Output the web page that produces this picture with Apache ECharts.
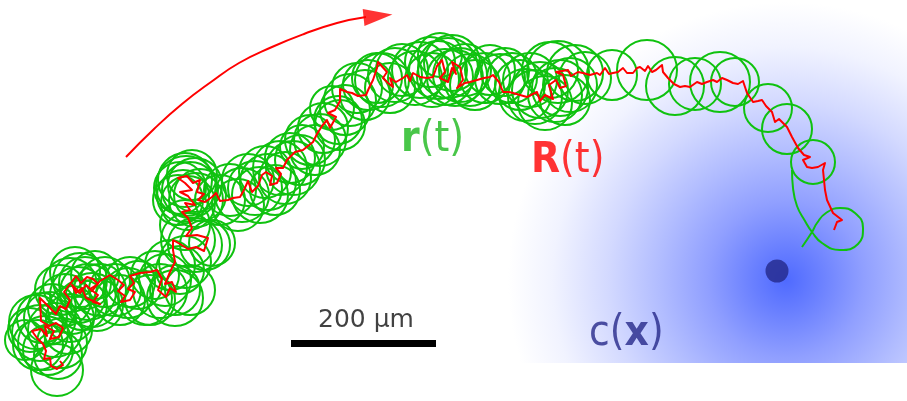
<!DOCTYPE html>
<html>
<head>
<meta charset="utf-8">
<script src="https://cdn.jsdelivr.net/npm/echarts@6/dist/echarts.min.js"></script>
<style>html,body{margin:0;padding:0;background:#fff}#c{width:907px;height:401px}</style>
</head>
<body>
<div id="c"></div>
<script>
// ---- canvas extent (image-like units, y grows downward) ----
const extentX = [0, 907];
const extentY = [0, 401];

// ---- concentration field c(x) ----
const fieldX = [500, 907];
const fieldY = [0, 363];
const sourcePoint = [777, 271];
const fieldCentre = [786, 280];
const fieldRadius = 278;

// ---- flagellar loops r(t): centre x, centre y, radius ----
const loopX = [57,36,40,45,55,50,62,30,48,42,58,25,68,52,38,70,
  70,78,85,92,65,75,100,82,95,60,88,105,72,97,80,
  115,128,130,145,160,165,175,120,138,150,175,155,190,170,180,
  185,195,205,188,212,185,
  185,190,183,195,188,180,192,200,178,196,186,
  230,242,248,255,268,265,280,293,290,220,238,260,275,285,300,315,
  302,310,323,332,338,357,365,377,382,320,345,340,350,368,390,395,
  402,415,438,445,452,460,470,430,485,500,505,520,535,545,550,560,575,565,
  420,432,448,455,465,475,490,512,525,530,540,555,570,585,440,558,
  612,647,675,695,720,735,768,787,813];
const loopY = [370,322,333,343,330,318,343,330,350,318,355,340,330,308,345,318,
  285,295,283,300,300,272,290,305,275,290,292,282,310,305,280,
  290,293,282,298,291,280,290,300,285,300,298,275,290,265,270,
  262,245,245,240,243,225,
  180,190,196,185,203,188,175,195,200,200,186,
  190,195,180,188,182,172,168,168,158,200,205,195,190,178,160,150,
  147,140,128,108,120,88,95,78,80,140,110,125,100,85,88,75,
  70,78,70,77,63,75,80,62,78,79,72,85,97,103,70,88,73,100,
  70,80,68,78,70,85,70,78,95,80,90,95,85,78,55,72,
  75,70,86,84,82,82,108,129,162];
const loopR = [26,27,28,27,27,26,25,22,25,25,24,20,24,24,25,24,
  27,28,26,27,26,25,26,25,24,25,28,25,24,26,27,
  26,25,25,27,27,26,25,25,24,25,28,24,25,25,24,
  26,27,25,27,23,25,
  27,28,26,27,27,26,25,26,25,27,30,
  26,27,26,27,28,26,27,27,25,25,26,28,25,26,25,25,
  22,25,25,22,24,25,25,25,27,26,25,25,26,25,25,27,
  26,27,29,28,28,27,26,25,25,25,24,25,27,27,28,28,28,25,
  28,27,30,28,26,25,25,25,26,27,28,27,27,26,22,31,
  25,30,29,26,30,24,24,25,22];

// ---- final free-swimming tail of r(t) ----
const tailX = [792,793,797,805,812,822,840,858,863,855,840,826,817,812,802];
const tailY = [170,188,206,221,232,243,250,244,228,213,208,213,223,232,247];

// ---- head path R(t) ----
const pathX = [60,63,57,51,50,44,46,43,37,32,41,47,45,54,50,59,63,56,49,41,40,50,56,60,66,70,64,70,76,81,87,93,98,90,98,93,100,86,82,76,72,80,86,92,100,110,118,
  124,118,125,121,130,135,128,134,130,140,150,157,
  162,158,166,170,176,172,165,170,175,173,173,
  180,188,196,204,208,197,186,192,188,
  182,190,185,195,188,180,192,185,178,187,193,200,197,204,198,
  205,212,216,220,228,233,240,244,248,252,258,262,266,272,270,277,281,276,283,287,295,303,308,313,
  317,322,327,330,336,328,335,340,340,347,352,358,366,369,373,
  377,378,387,383,388,393,390,396,403,407,410,413,420,427,433,437,
  442,445,440,448,452,456,452,460,463,457,465,470,477,484,490,493,499,503,509,513,520,527,533,537,540,
  545,553,549,556,560,566,563,556,568,571,573,578,583,590,
  597,600,605,609,613,618,623,627,633,637,640,645,648,652,656,662,663,668,674,680,685,690,697,702,707,713,717,722,727,733,738,743,747,753,758,762,766,772,775,779,783,787,790,792,798,804,810,803,807,812,818,825,823,825,827,833,842,837,834];
const pathY = [361,365,369,366,358,359,351,344,338,331,329,336,326,331,339,337,328,323,326,321,298,308,314,306,309,300,292,284,276,283,277,279,284,289,295,302,304,298,288,293,285,293,285,291,281,275,280,
  285,291,296,302,300,292,289,283,276,273,272,270,
  279,290,297,288,292,282,284,272,262,250,240,
  244,249,247,251,238,235,236,228,218,
  212,210,203,205,196,192,190,183,178,176,183,180,192,194,200,
  202,197,193,201,200,198,197,190,181,192,186,175,172,176,185,183,174,168,168,160,152,150,146,142,
  134,126,120,128,117,113,110,101,89,92,93,96,95,88,80,
  68,62,72,78,83,87,78,82,78,75,81,73,77,78,77,66,
  60,72,78,82,68,74,62,67,80,88,83,82,80,78,77,75,82,92,92,93,95,97,94,92,101,
  95,99,85,80,88,86,75,72,70,76,75,72,73,75,
  73,75,68,74,73,72,68,73,73,68,67,71,66,72,70,65,72,78,84,87,86,87,82,84,82,80,82,78,80,83,84,81,93,102,101,100,106,112,122,119,123,127,133,137,148,155,157,160,167,168,167,163,170,190,200,213,220,222,230];

// ---- direction arrow ----
const arrowX = [126,154,182,211,239,272,304,337,366];
const arrowY = [157,129,104,82,63,47,34,23,17];
const arrowHead = [378, 16];

// ---- scale bar (200 µm) ----
const scaleBarX = [291, 436];
const scaleBarY = [343.5, 343.5];

// ---- text labels ----
const labelTexts = ['{gb|r}{gn|(t)}', '{rb|R}{rn|(t)}', '{bn|c(}{bb|x}{bn|)}', '{k|200 µm}'];
const labelX = [401, 531, 589, 318];
const labelY = [140, 161, 334, 320];

const FONT = "'DejaVu Sans Condensed', 'DejaVu Sans'";
const GREEN = '#0fc20f';
const RED = '#ff0000';
const NAVY = '#25288a';

const chart = echarts.init(document.getElementById('c'), null, {renderer: 'canvas'});

const loopData = loopX.map((x, i) => [x, loopY[i], loopR[i]]);
const pathData = pathX.map((x, i) => [x, pathY[i]]);
const tailData = tailX.map((x, i) => [x, tailY[i]]);
const arrowData = arrowX.map((x, i) => [x, arrowY[i]]);
const scaleData = scaleBarX.map((x, i) => [x, scaleBarY[i]]);
const labelData = labelTexts.map((t, i) => ({value: [labelX[i], labelY[i]], label: {formatter: t}}));

const option = {
  animation: false,
  backgroundColor: '#ffffff',
  grid: {left: 0, right: 0, top: 0, bottom: 0},
  xAxis: {type: 'value', min: extentX[0], max: extentX[1], show: false},
  yAxis: {type: 'value', min: extentY[0], max: extentY[1], inverse: true, show: false},
  series: [
    {
      type: 'custom', z: 1, silent: true,
      data: [[fieldX[0], fieldY[0], fieldX[1], fieldY[1]]],
      encode: {x: [0, 2], y: [1, 3]},
      renderItem: function (params, api) {
        const p0 = api.coord([api.value(0), api.value(1)]);
        const p1 = api.coord([api.value(2), api.value(3)]);
        const c = api.coord(fieldCentre);
        const r = api.size([fieldRadius, 0])[0];
        return {
          type: 'rect',
          shape: {x: Math.min(p0[0], p1[0]), y: Math.min(p0[1], p1[1]), width: Math.abs(p1[0] - p0[0]), height: Math.abs(p1[1] - p0[1])},
          style: {
            fill: new echarts.graphic.RadialGradient(c[0], c[1], r, [
              {offset: 0, color: '#4f6aff'},
              {offset: 0.12, color: '#6a80ff'},
              {offset: 0.28, color: '#909fff'},
              {offset: 0.46, color: '#b2bdff'},
              {offset: 0.64, color: '#d3d9ff'},
              {offset: 0.84, color: '#f1f3ff'},
              {offset: 1, color: '#ffffff'}
            ], true)
          }
        };
      }
    },
    {
      type: 'scatter', z: 2, silent: true,
      data: [sourcePoint],
      symbol: 'circle', symbolSize: 23,
      itemStyle: {color: '#23288a'}
    },
    {
      type: 'custom', z: 3, silent: true,
      data: loopData,
      encode: {x: 0, y: 1},
      renderItem: function (params, api) {
        const c = api.coord([api.value(0), api.value(1)]);
        const r = api.size([api.value(2), 0])[0];
        return {type: 'circle', shape: {cx: c[0], cy: c[1], r: r}, style: {fill: 'none', stroke: GREEN, lineWidth: 2}};
      }
    },
    {
      type: 'line', z: 3, silent: true,
      data: tailData, showSymbol: false, smooth: 0.5,
      lineStyle: {color: GREEN, width: 2}
    },
    {
      type: 'line', z: 4, silent: true,
      data: pathData, showSymbol: false, smooth: false,
      lineStyle: {color: RED, width: 2, join: 'round'}
    },
    {
      type: 'line', z: 4, silent: true,
      data: arrowData, showSymbol: false, smooth: true,
      lineStyle: {color: RED, width: 2}
    },
    {
      type: 'scatter', z: 4, silent: true,
      data: [arrowHead],
      symbol: 'triangle', symbolSize: [17, 29], symbolRotate: -84,
      itemStyle: {color: RED}
    },
    {
      type: 'line', z: 4, silent: true,
      data: scaleData, showSymbol: false,
      lineStyle: {color: '#000000', width: 7, cap: 'butt'}
    },
    {
      type: 'scatter', z: 5, silent: true,
      data: labelData,
      symbolSize: 0,
      label: {
        show: true, position: [0, 0], align: 'left', verticalAlign: 'middle',
        rich: {
          gb: {fontFamily: FONT, fontSize: 42, fontWeight: 'bold', color: '#1cb81c'},
          gn: {fontFamily: FONT, fontSize: 42, color: '#1cb81c'},
          rb: {fontFamily: FONT, fontSize: 42, fontWeight: 'bold', color: RED},
          rn: {fontFamily: FONT, fontSize: 42, color: RED},
          bn: {fontFamily: FONT, fontSize: 42, color: NAVY},
          bb: {fontFamily: FONT, fontSize: 42, fontWeight: 'bold', color: NAVY},
          k: {fontFamily: "'DejaVu Sans'", fontSize: 25, color: '#111111'}
        }
      }
    }
  ]
};
chart.setOption(option);
</script>
</body>
</html>
